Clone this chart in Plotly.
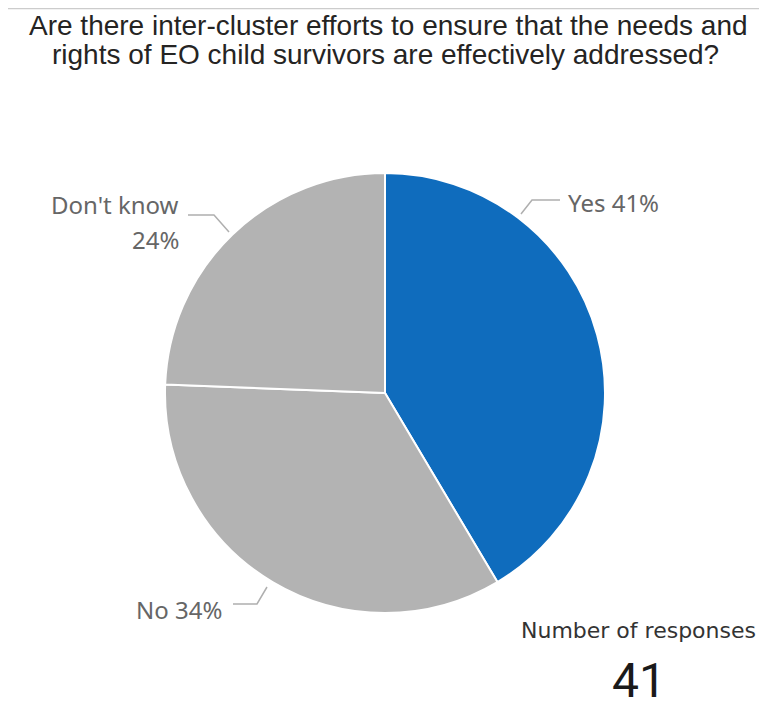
import plotly.graph_objects as go

labels = ["Yes", "No", "Don't know"]
values = [17, 14, 10]
colors = ["#0F6CBD", "#B3B3B3", "#B3B3B3"]
title_lines = ["Are there inter-cluster efforts to ensure that the needs and",
               "rights of EO child survivors are effectively addressed?"]
kpi_label = "Number of responses"
kpi_value = sum(values)

W, H = 767, 710
OFF = 8  # default page body margin in the browser
FW, FH = W - OFF, H - OFF
cx, cy, r = 385, 393, 220

total = sum(values)
pct = [round(v / total * 100) for v in values]

fig = go.Figure()
fig.add_trace(go.Pie(
    labels=labels, values=values, sort=False, direction="clockwise", rotation=0,
    marker=dict(colors=colors, line=dict(color="white", width=2)),
    textinfo="none", hoverinfo="label+percent", showlegend=False,
    domain=dict(x=[(cx - r - OFF) / FW, (cx + r - OFF) / FW],
                y=[(H - cy - r) / FH, (H - cy + r) / FH]),
))

label_font = dict(family="Noto Sans, Open Sans, sans-serif", size=24, color="#666666")
line_style = dict(color="#AFAFAF", width=1.5)

# leader lines (pixel layout positions)
leaders = [
    [(521, 214), (532, 200), (560, 200)],
    [(267, 587), (257, 604), (233, 604)],
    [(229, 232), (214, 215), (188, 215)],
]
for pts in leaders:
    path = "M " + " L ".join(f"{x},{y}" for x, y in pts)
    fig.add_shape(type="path", path=path, xref="x", yref="y", line=line_style)

anns = [
    dict(x=566, y=202, text=f"{labels[0]} {pct[0]}%", xanchor="left", yanchor="middle"),
    dict(x=224, y=609, text=f"{labels[1]} {pct[1]}%", xanchor="right", yanchor="middle"),
    dict(x=181, y=204, text=f"{labels[2]}", xanchor="right", yanchor="middle"),
    dict(x=181, y=239, text=f"{pct[2]}%", xanchor="right", yanchor="middle"),
]
for a in anns:
    fig.add_annotation(xref="x", yref="y", showarrow=False, font=label_font, **a)

# title
title_font = dict(family="Liberation Sans, Arial, sans-serif", size=28, color="#252423")
fig.add_annotation(xref="x", yref="y", x=388, y=OFF, text=title_lines[0], showarrow=False,
                   xanchor="center", yanchor="top", font=title_font)
fig.add_annotation(xref="x", yref="y", x=385, y=OFF + 29, text=title_lines[1], showarrow=False,
                   xanchor="center", yanchor="top", font=title_font)

# KPI card
fig.add_annotation(xref="x", yref="y", x=638, y=630, text=kpi_label, showarrow=False,
                   xanchor="center", yanchor="middle",
                   font=dict(family="DejaVu Sans, sans-serif", size=22, color="#333333"))
fig.add_annotation(xref="x", yref="y", x=639, y=680, text=str(kpi_value), showarrow=False,
                   xanchor="center", yanchor="middle",
                   font=dict(family="Roboto, sans-serif", size=48, color="#1a1a1a"))

# top border line
fig.add_shape(type="line", x0=OFF, x1=W, y0=OFF + 0.5, y1=OFF + 0.5, xref="x", yref="y",
              line=dict(color="#CCCCCC", width=1.5))

fig.update_layout(
    width=FW, height=FH, margin=dict(l=0, r=0, t=0, b=0),
    paper_bgcolor="white", plot_bgcolor="rgba(0,0,0,0)",
    xaxis=dict(range=[OFF, W], visible=False, fixedrange=True, domain=[0, 1]),
    yaxis=dict(range=[H, OFF], visible=False, fixedrange=True, domain=[0, 1]),
)

fig.write_html("out.html")
